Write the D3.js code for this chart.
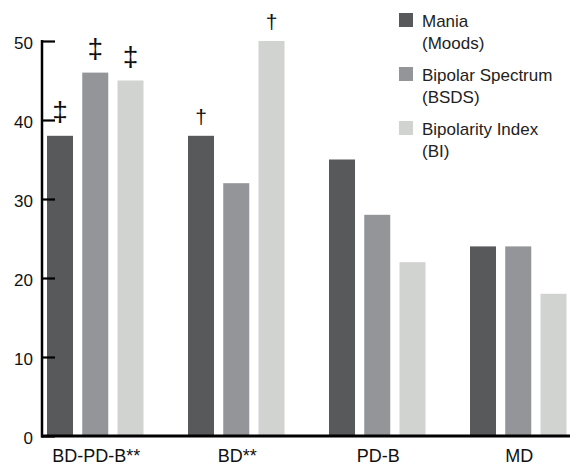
<!DOCTYPE html>
<html>
<head>
<meta charset="utf-8">
<script src="https://cdn.jsdelivr.net/npm/d3@7"></script>
<style>
  html, body { margin: 0; padding: 0; background: #fff; }
  svg { display: block; font-family: "Liberation Sans", Arial, sans-serif; }
</style>
</head>
<body>
<svg id="chart" width="570" height="466"></svg>
<script>
// ---- data ----
const categories = ["BD-PD-B**", "BD**", "PD-B", "MD"];
const seriesNames = ["Mania (Moods)", "Bipolar Spectrum (BSDS)", "Bipolarity Index (BI)"];
const legendLine1 = ["Mania", "Bipolar Spectrum", "Bipolarity Index"];
const legendLine2 = ["(Moods)", "(BSDS)", "(BI)"];
const maniaValues = [38, 38, 35, 24];
const bsdsValues = [46, 32, 28, 24];
const biValues = [45, 50, 22, 18];
const yTicks = [0, 10, 20, 30, 40, 50];
// significance markers: [category index, series index, symbol]
const markCategory = [0, 0, 0, 1, 1];
const markSeries = [0, 1, 2, 0, 2];
const markSymbol = ["\u2021", "\u2021", "\u2021", "\u2020", "\u2020"];

const colors = ["#58595b", "#939598", "#d1d3d0"];
const seriesValues = [maniaValues, bsdsValues, biValues];

const svg = d3.select("#chart");

const y = d3.scaleLinear().domain([0, 50]).range([436, 41]);
const x0 = d3.scaleBand().domain(categories).range([47, 47 + 141 * categories.length]).padding(0);
const x1 = d3.scaleBand().domain(d3.range(seriesNames.length)).range([0, 96.5]).paddingInner(0.262).paddingOuter(0);

// bars
const groups = svg.selectAll("g.grp").data(categories).join("g")
  .attr("class", "grp")
  .attr("transform", d => `translate(${x0(d)},0)`);

groups.selectAll("rect").data((d, i) => seriesValues.map((vals, s) => ({ s, v: vals[i] })))
  .join("rect")
  .attr("x", d => x1(d.s))
  .attr("y", d => y(d.v))
  .attr("width", x1.bandwidth())
  .attr("height", d => y(0) - y(d.v))
  .attr("fill", d => colors[d.s]);

// axes
const yAxis = d3.axisRight(y).tickValues(yTicks).tickSize(13).tickFormat("");
const yg = svg.append("g").attr("transform", "translate(42,0)").call(yAxis);
yg.select(".domain").remove();
yg.selectAll(".tick line").attr("stroke", "#000").attr("stroke-width", 2.2);

svg.append("line").attr("x1", 42).attr("x2", 42).attr("y1", y(50) - 1).attr("y2", y(0) + 1.5)
  .attr("stroke", "#000").attr("stroke-width", 2.5);
svg.append("line").attr("x1", 41).attr("x2", 570).attr("y1", y(0)).attr("y2", y(0))
  .attr("stroke", "#000").attr("stroke-width", 2.8);

svg.selectAll("text.ytl").data(yTicks).join("text")
  .attr("class", "ytl")
  .attr("x", 33)
  .attr("y", d => y(d) + 8)
  .attr("text-anchor", "end")
  .attr("font-size", 17)
  .attr("fill", "#111")
  .text(d => d);

// x labels
svg.selectAll("text.xl").data(categories).join("text")
  .attr("class", "xl")
  .attr("x", d => x0(d) + x1.range()[1] / 2 + 1)
  .attr("y", 462)
  .attr("text-anchor", "middle")
  .attr("font-size", 18)
  .attr("fill", "#111")
  .text(d => d);

// significance markers
svg.selectAll("text.mk").data(markSymbol).join("text")
  .attr("class", "mk")
  .attr("x", (d, i) => x0(categories[markCategory[i]]) + x1(markSeries[i]) + x1.bandwidth() / 2)
  .attr("y", (d, i) => y(seriesValues[markSeries[i]][markCategory[i]]) - (d === "\u2021" ? 15 : 12))
  .attr("text-anchor", "middle")
  .attr("font-size", d => d === "\u2021" ? 28 : 21)
  .attr("fill", "#111")
  .text(d => d);

// legend
const lg = svg.selectAll("g.lg").data(seriesNames).join("g")
  .attr("class", "lg")
  .attr("transform", (d, i) => `translate(399,${13 + i * 54})`);
lg.append("rect").attr("width", 14).attr("height", 14).attr("fill", (d, i) => colors[i]);
lg.append("text").attr("x", 23).attr("y", 14).attr("font-size", 17).attr("fill", "#222")
  .text((d, i) => legendLine1[i]);
lg.append("text").attr("x", 23).attr("y", 36).attr("font-size", 17).attr("fill", "#222")
  .text((d, i) => legendLine2[i]);
</script>
</body>
</html>
